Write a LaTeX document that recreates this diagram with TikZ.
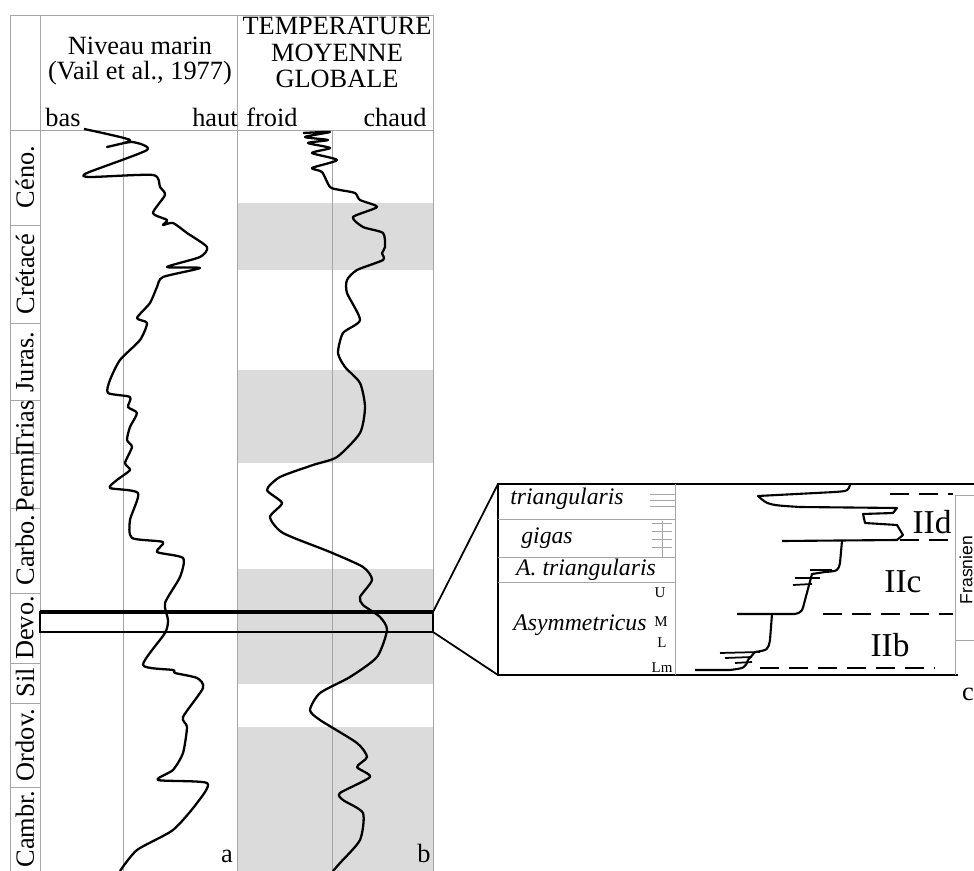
\documentclass[tikz,border=0pt]{standalone}
\usepackage{fontspec}
\setmainfont{Liberation Serif}
\newfontfamily\frasfont{Liberation Sans}
\usepackage{tikz}

\begin{document}
\begin{tikzpicture}[x=0.02cm,y=-0.02cm]
\tikzstyle{every node}+=[inner sep=0pt]
\tikzstyle{grid}=[draw=black!35, line width=0.5pt]
\tikzstyle{band}=[fill=black!14]
\tikzstyle{curve}=[draw=black, line width=1.3pt, line join=round]
\tikzstyle{hdr}=[font=\fontsize{15}{18}\selectfont, anchor=base]
\tikzstyle{stage}=[font=\fontsize{15}{18}\selectfont, rotate=90]
\tikzstyle{zone}=[font=\fontsize{13.5}{16}\selectfont\itshape]
\tikzstyle{sub}=[font=\fontsize{8.5}{10}\selectfont]
\tikzstyle{seq}=[font=\fontsize{19}{22}\selectfont]
\tikzstyle{limit}=[draw=black, line width=1.7pt, dash pattern=on 11pt off 5.5pt]
\useasboundingbox (0,0) rectangle (974,871);
\fill [band] (237,203) rectangle (433,270);
\fill [band] (237,370) rectangle (433,463);
\fill [band] (237,569) rectangle (433,684);
\fill [band] (237,727) rectangle (433,871);
\draw [grid] (10,15) -- (433,15);
\draw [grid] (10,130) -- (433,130);
\draw [grid] (10,15) -- (10,871);
\draw [grid] (40,15) -- (40,871);
\draw [grid] (237,15) -- (237,871);
\draw [grid] (433,15) -- (433,871);
\draw [grid] (123,130) -- (123,871);
\draw [grid] (332,130) -- (332,871);
\foreach \y in {225,323,400,453,508,593,663,703,787}
  \draw [grid] (10,\y) -- (40,\y);
\node [stage] (ceno) at (25,177) {Céno.};
\node [stage] (creta) at (25,274) {Crétacé};
\node [stage] (juras) at (25,362) {Juras.};
\node [stage] (trias) at (25,427) {Trias};
\node [stage] (permi) at (25,481) {Permi};
\node [stage] (carbo) at (25,550) {Carbo.};
\node [stage] (devo) at (25,628) {Devo.};
\node [stage] (sil) at (25,683) {Sil};
\node [stage] (ordov) at (25,745) {Ordov.};
\node [stage] (cambr) at (25,829) {Cambr.};
\node [hdr] (niveau) at (140,55) {Niveau marin};
\node [hdr] (vail) at (140,80) {(Vail et al., 1977)};
\node [hdr] (temp) at (337,35) {TEMPERATURE};
\node [hdr] (moy) at (337,62) {MOYENNE};
\node [hdr] (glob) at (337,88) {GLOBALE};
\node [hdr] (bas) at (63,127) {bas};
\node [hdr] (haut) at (215,127) {haut};
\node [hdr] (froid) at (272,127) {froid};
\node [hdr] (chaud) at (395,127) {chaud};
\node [hdr] (a) at (227,862) {a};
\node [hdr] (b) at (424,862) {b};
\draw [curve] plot [smooth, tension=0.4] coordinates {
  (84,129) (130,140) (107,147) (132,142) (147,150) (87,173) (90,177)
  (153,175) (160,187) (165,195) (153,213) (167,220) (163,225) (173,223)
  (187,233) (207,247) (200,257) (167,267) (200,268) (163,277) (157,287)
  (150,303) (137,318) (147,323) (140,340) (120,360) (110,380) (108,393)
  (130,397) (128,407) (137,413) (130,427) (127,440) (132,447) (125,463)
  (130,470) (117,480) (110,488) (138,493) (130,520) (132,538) (163,542)
  (157,552) (183,558) (180,577) (165,603) (168,620) (165,633) (143,665)
  (173,670) (175,673) (197,678) (203,688) (183,717) (187,727) (183,753)
  (173,770) (158,780) (207,783) (197,803) (173,830) (137,850) (120,871)};
\draw [curve] plot [smooth, tension=0.4] coordinates {
  (303,133) (330,132) (305,137) (328,140) (308,143) (330,148) (312,153)
  (337,160) (312,168) (322,172) (330,187) (340,190) (355,193) (360,200)
  (377,207) (353,217) (363,227) (383,233) (385,247) (382,253) (383,260)
  (357,270) (347,280) (347,293) (360,320) (343,333) (338,353) (345,367)
  (360,383) (365,407) (360,433) (337,457) (313,465) (280,477) (267,490)
  (282,503) (270,517) (283,533) (330,552) (363,567) (372,580) (360,597)
  (363,605) (380,617) (387,630) (377,657) (350,677) (320,693) (310,710)
  (320,720) (357,743) (367,757) (357,767) (370,777) (340,793) (343,800)
  (363,813) (360,840) (340,863) (333,871)};
\coordinate (zoomtl) at (40,612);
\coordinate (zoomtr) at (433,612);
\coordinate (zoombr) at (433,632);
\coordinate (zoombl) at (40,632);
\draw [line width=1pt] (zoomtl) rectangle (zoombr);
\draw [line width=1.8pt] (zoomtl) -- (zoomtr);
\coordinate (insettl) at (498,484);
\coordinate (insetbl) at (498,675);
\coordinate (insettr) at (974,484);
\coordinate (insetbr) at (958,675);
\draw [line width=1pt] (zoomtr) -- (insettl);
\draw [line width=1pt] (zoombr) -- (insetbl);
\draw [line width=1.6pt] (insettr) -- (insettl) -- (insetbl) -- (insetbr);
\draw [grid] (675,484) -- (675,675);
\draw [grid] (955,495) -- (955,675);
\draw [grid] (955,495) -- (974,495);
\draw [grid] (955,640) -- (974,640);
\foreach \y in {519,557,582}
  \draw [grid] (498,\y) -- (675,\y);
\foreach \y in {494,500,506}
  \draw [grid] (650,\y) -- (675,\y);
\draw [grid] (662,521) -- (662,557);
\foreach \y in {523,531,539,547}
  \draw [grid] (652,\y) -- (672,\y);
\node [zone] (trig) at (567,499) {triangularis};
\node [zone] (gigas) at (547,538) {gigas};
\node [zone] (atri) at (586,570) {A. triangularis};
\node [zone] (asym) at (580,625) {Asymmetricus};
\node [sub] (u) at (660,593) {U};
\node [sub] (m) at (661,622) {M};
\node [sub] (l) at (662,643) {L};
\node [sub] (lm) at (662,668) {Lm};
\draw [line width=1.2pt, line join=round] (850,485) .. controls (848,491) .. (835,492) -- (758,496)
  .. controls (768,505) .. (800,507) -- (897,508) -- (893,513) -- (863,514) -- (865,523)
  -- (897,525) -- (903,535) -- (897,540) -- (782,541);
\draw [line width=1.2pt, line join=round] (842,541) -- (840,563) .. controls (838,571) .. (825,572)
  -- (812,574) -- (805,600) .. controls (802,612) .. (795,614) -- (737,614);
\draw [line width=1pt] (810,570) -- (832,570);
\draw [line width=1pt] (795,578) -- (820,578);
\draw [line width=1pt] (793,585) -- (812,584);
\draw [line width=1.2pt, line join=round] (772,614) -- (770,640) .. controls (768,650) .. (755,652)
  -- (748,660) .. controls (745,668) .. (730,670) -- (695,670);
\draw [line width=1pt] (720,653) -- (760,652);
\draw [line width=1pt] (725,658) -- (752,657);
\draw [line width=1pt] (735,663) -- (752,662);
\draw [limit] (890,494) -- (953,494);
\draw [limit] (900,540) -- (953,540);
\draw [limit] (823,614) -- (953,614);
\draw [limit] (760,668) -- (935,668);
\node [seq] (iid) at (932,522) {IId};
\node [seq] (iic) at (903,582) {IIc};
\node [seq] (iib) at (890,645) {IIb};
\node [font=\frasfont\fontsize{10}{12}\selectfont, rotate=90, anchor=south] (fras) at (973,570) {Frasnien};
\node [hdr] (c) at (968,700) {c};
\end{tikzpicture}
\end{document}
